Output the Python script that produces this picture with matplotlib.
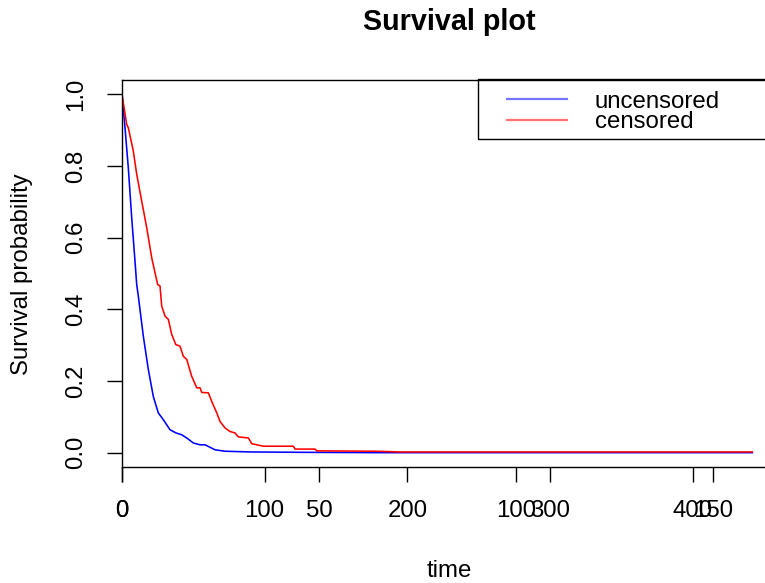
import numpy as np
import matplotlib
matplotlib.use("Agg")
import matplotlib.pyplot as plt
from matplotlib.lines import Line2D
from matplotlib.patches import Rectangle

plt.rcParams['font.family'] = ['Liberation Sans', 'DejaVu Sans']

# uncensored curve, traced on the 0-150 time axis
unc_time = [0, 0.76, 1.60, 2.46, 3.30, 3.73, 4.14, 5.41, 6.68, 7.94, 9.21, 10.48,
            12.18, 13.71, 15.15, 16.42, 18.10, 19.80, 21.07, 23.60, 26.14, 32.49,
            45.18, 65.48, 159.9]
unc_surv = [1.0, 0.907, 0.795, 0.656, 0.534, 0.469, 0.437, 0.325, 0.232, 0.157, 0.111, 0.092,
            0.064, 0.055, 0.050, 0.041, 0.027, 0.022, 0.022, 0.008, 0.004, 0.002,
            0.001, 0.0, 0.0]

# censored curve, traced on the 0-400 time axis
cen_time = [0, 3.30, 4.42, 7.92, 10.31, 13.81, 17.32, 20.83, 23.14, 25.04, 26.65, 27.84,
            30.15, 32.47, 34.85, 37.66, 40.67, 42.99, 45.37, 48.88, 52.38, 54.70, 55.89,
            60.52, 62.90, 66.41, 68.72, 72.23, 75.74, 79.24, 81.56, 88.57, 90.95, 92.08,
            99.09, 120.13, 121.32, 135.34, 136.54, 178.61, 194.95, 441.8]
cen_surv = [1.0, 0.916, 0.907, 0.842, 0.777, 0.702, 0.628, 0.544, 0.502, 0.469, 0.465, 0.409,
            0.381, 0.372, 0.330, 0.302, 0.297, 0.269, 0.260, 0.213, 0.181, 0.181, 0.168,
            0.167, 0.143, 0.111, 0.087, 0.069, 0.059, 0.055, 0.044, 0.041, 0.025, 0.024,
            0.018, 0.018, 0.010, 0.010, 0.005, 0.004, 0.002, 0.002]

y_ticks = [0.0, 0.2, 0.4, 0.6, 0.8, 1.0]
y_labels = ["0.0", "0.2", "0.4", "0.6", "0.8", "1.0"]
ticks_a = [0, 100, 200, 300, 400]
ticks_b = [0, 50, 100, 150]
legend_labels = ["uncensored", "censored"]

W, H = 765, 583
fig = plt.figure(figsize=(W / 100, H / 100), dpi=100)

def fx(px):
    return px / W

def fy(py):
    return 1 - py / H

left, right, top, bottom = 122, 777.5, 80, 467
rect = [fx(left), fy(bottom), fx(right) - fx(left), fy(top) - fy(bottom)]

FS = 17.3
tick_kw = dict(length=10.8, width=1.0, direction='out', labelsize=FS)

# blue (uncensored) axes underneath
ax2 = fig.add_axes(rect)
ax2.plot(unc_time, unc_surv, color='#0000ff', lw=1.15)
ax2.set_xlim(0, max(unc_time) * 1.04)
ax2.set_ylim(-0.04, 1.04)
ax2.set_xticks(ticks_b)
ax2.set_yticks([])
ax2.tick_params(axis='x', pad=13, **tick_kw)
for s in ax2.spines.values():
    s.set_visible(False)

# red (censored) axes on top, with the box and y axis
ax = fig.add_axes(rect)
ax.patch.set_visible(False)
ax.plot(cen_time, cen_surv, color='#ff0000', lw=1.15)
ax.set_xlim(0, max(cen_time) * 1.04)
ax.set_ylim(-0.04, 1.04)
ax.set_xticks(ticks_a)
ax.set_yticks(y_ticks)
ax.set_yticklabels(y_labels, rotation=90, va='center')
ax.tick_params(axis='x', pad=13, **tick_kw)
ax.tick_params(axis='y', pad=14, **tick_kw)
for s in ax.spines.values():
    s.set_linewidth(1.0)

fig.text(fx(449.5), fy(22), "Survival plot", ha='center', va='center',
         fontsize=20.7, fontweight='bold')
fig.text(fx(22), fy(274), "Survival probability", ha='center', va='center',
         rotation=90, fontsize=FS)
fig.text(fx(449.5), fy(571), "time", ha='center', va='center', fontsize=FS)

# legend box
fig.patches.append(Rectangle((fx(478), fy(139)), fx(790) - fx(478), fy(79) - fy(139),
                             transform=fig.transFigure, fill=False, edgecolor='black',
                             lw=1.0, clip_on=False))
for (lab, col, yy) in zip(legend_labels, ['#0000ff', '#ff0000'], [99, 120]):
    fig.lines.append(Line2D([fx(507), fx(567)], [fy(yy), fy(yy)], transform=fig.transFigure,
                            color=col, alpha=0.55, lw=1.6))
    fig.text(fx(595), fy(yy + 2.5), lab, ha='left', va='center', fontsize=FS)

fig.savefig("out.png", dpi=100)
